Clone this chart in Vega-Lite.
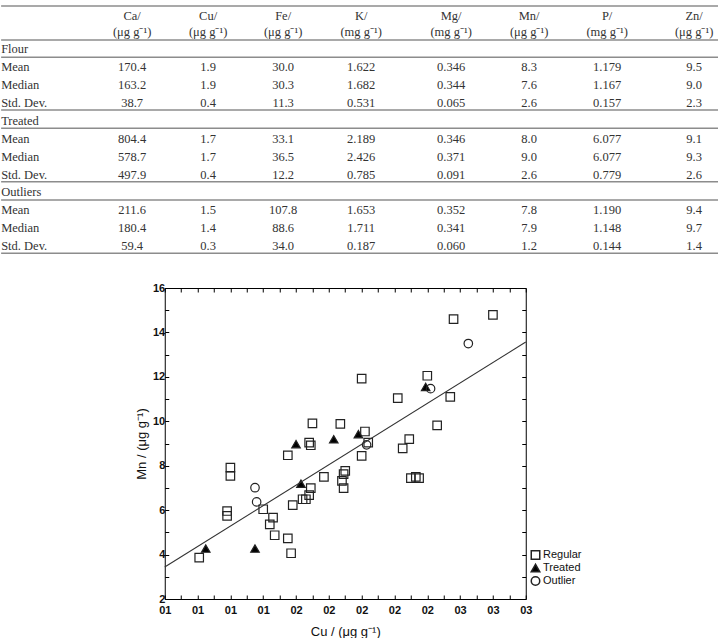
{
  "$schema": "https://vega.github.io/schema/vega-lite/v6.json",
  "padding": 0,
  "background": "white",
  "spacing": 22,
  "center": true,
  "config": {
    "view": {"stroke": null},
    "axis": {
      "domainColor": "#000", "domainWidth": 1, "tickColor": "#000", "tickWidth": 1, "tickSize": -4,
      "labelFont": "Liberation Sans", "labelFontSize": 11, "labelFontWeight": "bold", "labelColor": "#111",
      "titleFont": "Liberation Sans", "titleFontSize": 13, "titleFontWeight": "normal", "titleColor": "#111",
      "grid": false, "labelFlush": false, "labelOverlap": false, "labelBound": false
    },
    "legend": {"labelFont": "Liberation Sans", "labelFontSize": 11, "labelColor": "#111"}
  },
  "vconcat": [
    {
      "width": 718,
      "height": 260,
      "layer": [
        {
          "data": {"values": [{"y": -2.42}, {"y": -0.52}, {"y": 0.45}, {"y": 3.4}, {"y": 4.42}, {"y": 7.4}, {"y": 8.42}, {"y": 11.4}]},
          "mark": {"type": "rule", "color": "#8c8c8c", "strokeWidth": 1.5},
          "encoding": {"y": {"field": "y", "type": "quantitative", "scale": {"domain": [-2.75, 11.775], "reverse": true, "nice": false, "zero": false}, "axis": null}}
        },
        {
          "data": {"values": [
            {"row": 0, "col": 0, "t": "Flour"}, {"row": 1, "col": 0, "t": "Mean"}, {"row": 2, "col": 0, "t": "Median"}, {"row": 3, "col": 0, "t": "Std. Dev."},
            {"row": 4, "col": 0, "t": "Treated"}, {"row": 5, "col": 0, "t": "Mean"}, {"row": 6, "col": 0, "t": "Median"}, {"row": 7, "col": 0, "t": "Std. Dev."},
            {"row": 8, "col": 0, "t": "Outliers"}, {"row": 9, "col": 0, "t": "Mean"}, {"row": 10, "col": 0, "t": "Median"}, {"row": 11, "col": 0, "t": "Std. Dev."}
          ]},
          "mark": {"type": "text", "align": "left", "baseline": "middle", "font": "Liberation Serif", "fontSize": 12.5, "color": "#333"},
          "encoding": {
            "x": {"field": "col", "type": "quantitative", "scale": {"domain": [0, 1, 2, 3, 4, 5, 6, 7, 8], "range": [0, 131, 207, 282, 360, 450, 528, 606, 693]}, "axis": null},
            "y": {"field": "row", "type": "quantitative", "scale": {"domain": [-2.75, 11.775], "reverse": true, "nice": false, "zero": false}, "axis": null},
            "text": {"field": "t"}
          }
        },
        {
          "data": {"values": [
            {"row": -1.85, "col": 1, "t": "Ca/"}, {"row": -1.85, "col": 2, "t": "Cu/"}, {"row": -1.85, "col": 3, "t": "Fe/"}, {"row": -1.85, "col": 4, "t": "K/"},
            {"row": -1.85, "col": 5, "t": "Mg/"}, {"row": -1.85, "col": 6, "t": "Mn/"}, {"row": -1.85, "col": 7, "t": "P/"}, {"row": -1.85, "col": 8, "t": "Zn/"},
            {"row": -0.95, "col": 1, "t": "(μg g⁻¹)"}, {"row": -0.95, "col": 2, "t": "(μg g⁻¹)"}, {"row": -0.95, "col": 3, "t": "(μg g⁻¹)"}, {"row": -0.95, "col": 4, "t": "(mg g⁻¹)"},
            {"row": -0.95, "col": 5, "t": "(mg g⁻¹)"}, {"row": -0.95, "col": 6, "t": "(μg g⁻¹)"}, {"row": -0.95, "col": 7, "t": "(mg g⁻¹)"}, {"row": -0.95, "col": 8, "t": "(μg g⁻¹)"},
            {"row": 1, "col": 1, "t": "170.4"}, {"row": 1, "col": 2, "t": "1.9"}, {"row": 1, "col": 3, "t": "30.0"}, {"row": 1, "col": 4, "t": "1.622"}, {"row": 1, "col": 5, "t": "0.346"}, {"row": 1, "col": 6, "t": "8.3"}, {"row": 1, "col": 7, "t": "1.179"}, {"row": 1, "col": 8, "t": "9.5"},
            {"row": 2, "col": 1, "t": "163.2"}, {"row": 2, "col": 2, "t": "1.9"}, {"row": 2, "col": 3, "t": "30.3"}, {"row": 2, "col": 4, "t": "1.682"}, {"row": 2, "col": 5, "t": "0.344"}, {"row": 2, "col": 6, "t": "7.6"}, {"row": 2, "col": 7, "t": "1.167"}, {"row": 2, "col": 8, "t": "9.0"},
            {"row": 3, "col": 1, "t": "38.7"}, {"row": 3, "col": 2, "t": "0.4"}, {"row": 3, "col": 3, "t": "11.3"}, {"row": 3, "col": 4, "t": "0.531"}, {"row": 3, "col": 5, "t": "0.065"}, {"row": 3, "col": 6, "t": "2.6"}, {"row": 3, "col": 7, "t": "0.157"}, {"row": 3, "col": 8, "t": "2.3"},
            {"row": 5, "col": 1, "t": "804.4"}, {"row": 5, "col": 2, "t": "1.7"}, {"row": 5, "col": 3, "t": "33.1"}, {"row": 5, "col": 4, "t": "2.189"}, {"row": 5, "col": 5, "t": "0.346"}, {"row": 5, "col": 6, "t": "8.0"}, {"row": 5, "col": 7, "t": "6.077"}, {"row": 5, "col": 8, "t": "9.1"},
            {"row": 6, "col": 1, "t": "578.7"}, {"row": 6, "col": 2, "t": "1.7"}, {"row": 6, "col": 3, "t": "36.5"}, {"row": 6, "col": 4, "t": "2.426"}, {"row": 6, "col": 5, "t": "0.371"}, {"row": 6, "col": 6, "t": "9.0"}, {"row": 6, "col": 7, "t": "6.077"}, {"row": 6, "col": 8, "t": "9.3"},
            {"row": 7, "col": 1, "t": "497.9"}, {"row": 7, "col": 2, "t": "0.4"}, {"row": 7, "col": 3, "t": "12.2"}, {"row": 7, "col": 4, "t": "0.785"}, {"row": 7, "col": 5, "t": "0.091"}, {"row": 7, "col": 6, "t": "2.6"}, {"row": 7, "col": 7, "t": "0.779"}, {"row": 7, "col": 8, "t": "2.6"},
            {"row": 9, "col": 1, "t": "211.6"}, {"row": 9, "col": 2, "t": "1.5"}, {"row": 9, "col": 3, "t": "107.8"}, {"row": 9, "col": 4, "t": "1.653"}, {"row": 9, "col": 5, "t": "0.352"}, {"row": 9, "col": 6, "t": "7.8"}, {"row": 9, "col": 7, "t": "1.190"}, {"row": 9, "col": 8, "t": "9.4"},
            {"row": 10, "col": 1, "t": "180.4"}, {"row": 10, "col": 2, "t": "1.4"}, {"row": 10, "col": 3, "t": "88.6"}, {"row": 10, "col": 4, "t": "1.711"}, {"row": 10, "col": 5, "t": "0.341"}, {"row": 10, "col": 6, "t": "7.9"}, {"row": 10, "col": 7, "t": "1.148"}, {"row": 10, "col": 8, "t": "9.7"},
            {"row": 11, "col": 1, "t": "59.4"}, {"row": 11, "col": 2, "t": "0.3"}, {"row": 11, "col": 3, "t": "34.0"}, {"row": 11, "col": 4, "t": "0.187"}, {"row": 11, "col": 5, "t": "0.060"}, {"row": 11, "col": 6, "t": "1.2"}, {"row": 11, "col": 7, "t": "0.144"}, {"row": 11, "col": 8, "t": "1.4"}
          ]},
          "mark": {"type": "text", "align": "center", "baseline": "middle", "font": "Liberation Serif", "fontSize": 12.5, "color": "#333"},
          "encoding": {
            "x": {"field": "col", "type": "quantitative", "scale": {"domain": [0, 1, 2, 3, 4, 5, 6, 7, 8], "range": [0, 131, 207, 282, 360, 450, 528, 606, 693]}, "axis": null},
            "y": {"field": "row", "type": "quantitative", "scale": {"domain": [-2.75, 11.775], "reverse": true, "nice": false, "zero": false}, "axis": null},
            "text": {"field": "t"}
          }
        }
      ]
    },
    {
      "width": 361,
      "height": 311,
      "layer": [
        {
          "data": {"values": [
            {"Type": "Regular", "Cu": 1.01, "Mn": 3.86}, {"Type": "Regular", "Cu": 1.2, "Mn": 7.91}, {"Type": "Regular", "Cu": 1.2, "Mn": 7.54},
            {"Type": "Regular", "Cu": 1.18, "Mn": 5.96}, {"Type": "Regular", "Cu": 1.18, "Mn": 5.74}, {"Type": "Regular", "Cu": 1.4, "Mn": 6.04},
            {"Type": "Regular", "Cu": 1.44, "Mn": 5.36}, {"Type": "Regular", "Cu": 1.46, "Mn": 5.66}, {"Type": "Regular", "Cu": 1.47, "Mn": 4.87},
            {"Type": "Regular", "Cu": 1.55, "Mn": 4.73}, {"Type": "Regular", "Cu": 1.57, "Mn": 4.06}, {"Type": "Regular", "Cu": 1.55, "Mn": 8.47},
            {"Type": "Regular", "Cu": 1.58, "Mn": 6.23}, {"Type": "Regular", "Cu": 1.64, "Mn": 6.49}, {"Type": "Regular", "Cu": 1.66, "Mn": 6.49},
            {"Type": "Regular", "Cu": 1.68, "Mn": 6.68}, {"Type": "Regular", "Cu": 1.69, "Mn": 6.99}, {"Type": "Regular", "Cu": 1.68, "Mn": 9.04},
            {"Type": "Regular", "Cu": 1.69, "Mn": 8.92}, {"Type": "Regular", "Cu": 1.7, "Mn": 9.91}, {"Type": "Regular", "Cu": 1.77, "Mn": 7.5},
            {"Type": "Regular", "Cu": 1.88, "Mn": 7.32}, {"Type": "Regular", "Cu": 1.89, "Mn": 7.62}, {"Type": "Regular", "Cu": 1.9, "Mn": 7.77},
            {"Type": "Regular", "Cu": 1.89, "Mn": 6.99}, {"Type": "Regular", "Cu": 1.87, "Mn": 9.88}, {"Type": "Regular", "Cu": 2.0, "Mn": 11.92},
            {"Type": "Regular", "Cu": 2.02, "Mn": 9.54}, {"Type": "Regular", "Cu": 2.04, "Mn": 9.04}, {"Type": "Regular", "Cu": 2.0, "Mn": 8.44},
            {"Type": "Regular", "Cu": 2.25, "Mn": 8.78}, {"Type": "Regular", "Cu": 2.29, "Mn": 9.2}, {"Type": "Regular", "Cu": 2.3, "Mn": 7.44},
            {"Type": "Regular", "Cu": 2.33, "Mn": 7.5}, {"Type": "Regular", "Cu": 2.35, "Mn": 7.44}, {"Type": "Regular", "Cu": 2.56, "Mn": 14.6},
            {"Type": "Regular", "Cu": 2.8, "Mn": 14.79}, {"Type": "Regular", "Cu": 2.4, "Mn": 12.05}, {"Type": "Regular", "Cu": 2.22, "Mn": 11.04},
            {"Type": "Regular", "Cu": 2.54, "Mn": 11.1}, {"Type": "Regular", "Cu": 2.46, "Mn": 9.82},
            {"Type": "Treated", "Cu": 1.05, "Mn": 4.27}, {"Type": "Treated", "Cu": 1.35, "Mn": 4.27}, {"Type": "Treated", "Cu": 1.6, "Mn": 8.97},
            {"Type": "Treated", "Cu": 1.63, "Mn": 7.19}, {"Type": "Treated", "Cu": 1.83, "Mn": 9.19}, {"Type": "Treated", "Cu": 1.98, "Mn": 9.42},
            {"Type": "Treated", "Cu": 2.39, "Mn": 11.55},
            {"Type": "Outlier", "Cu": 1.35, "Mn": 7.01}, {"Type": "Outlier", "Cu": 1.36, "Mn": 6.37}, {"Type": "Outlier", "Cu": 2.03, "Mn": 8.94},
            {"Type": "Outlier", "Cu": 2.42, "Mn": 11.47}, {"Type": "Outlier", "Cu": 2.65, "Mn": 13.5}
          ]},
          "mark": {"type": "point", "filled": true, "size": 72, "stroke": "#222", "strokeWidth": 1.2, "opacity": 1},
          "encoding": {
            "x": {"field": "Cu", "type": "quantitative", "scale": {"domain": [0.8, 3.0], "nice": false, "zero": false},
              "axis": {"orient": "bottom", "values": [0.8, 0.9, 1.0, 1.1, 1.2, 1.3, 1.4, 1.5, 1.6, 1.7, 1.8, 1.9, 2.0, 2.1, 2.2, 2.3, 2.4, 2.5, 2.6, 2.7, 2.8, 2.9, 3.0],
                "labelExpr": "round(datum.value*10) % 2 == 0 ? format(datum.value, '02.0f') : ''", "labelPadding": 9, "title": "Cu / (μg g⁻¹)", "titlePadding": 10}},
            "y": {"field": "Mn", "type": "quantitative", "scale": {"domain": [2, 16], "nice": false, "zero": false},
              "axis": {"orient": "left", "values": [2, 3, 4, 5, 6, 7, 8, 9, 10, 11, 12, 13, 14, 15, 16],
                "labelExpr": "datum.value % 2 == 0 ? datum.label : ''", "labelPadding": 4, "title": "Mn / (μg g⁻¹)", "titlePadding": 4}},
            "shape": {"field": "Type", "type": "nominal", "scale": {"domain": ["Regular", "Treated", "Outlier"], "range": ["square", "triangle-up", "circle"]},
              "legend": {"title": null, "orient": "none", "legendX": 529, "legendY": 549.5, "symbolSize": 72, "rowPadding": -2.5, "labelOffset": 2, "padding": 0,
                "encode": {"symbols": {"update": {"stroke": {"value": "#222"}, "strokeWidth": {"value": 1.2}}}}}},
            "fill": {"field": "Type", "type": "nominal", "scale": {"domain": ["Regular", "Treated", "Outlier"], "range": ["transparent", "#000", "transparent"]},
              "legend": {"title": null, "orient": "none", "legendX": 529, "legendY": 549.5, "symbolSize": 72, "rowPadding": -2.5, "labelOffset": 2, "padding": 0,
                "encode": {"symbols": {"update": {"stroke": {"value": "#222"}, "strokeWidth": {"value": 1.2}}}}}}
          }
        },
        {
          "data": {"values": [{"Cu": 0.8, "Mn": 3.44}, {"Cu": 3.0, "Mn": 13.57}]},
          "mark": {"type": "line", "color": "#333", "strokeWidth": 1.1},
          "encoding": {
            "x": {"field": "Cu", "type": "quantitative", "axis": {"orient": "top", "labels": false, "title": null, "values": [0.8, 0.9, 1.0, 1.1, 1.2, 1.3, 1.4, 1.5, 1.6, 1.7, 1.8, 1.9, 2.0, 2.1, 2.2, 2.3, 2.4, 2.5, 2.6, 2.7, 2.8, 2.9, 3.0]}},
            "y": {"field": "Mn", "type": "quantitative", "axis": {"orient": "right", "labels": false, "title": " ", "titlePadding": 17, "values": [2, 3, 4, 5, 6, 7, 8, 9, 10, 11, 12, 13, 14, 15, 16]}}
          }
        }
      ],
      "resolve": {"axis": {"x": "independent", "y": "independent"}}
    }
  ]
}
